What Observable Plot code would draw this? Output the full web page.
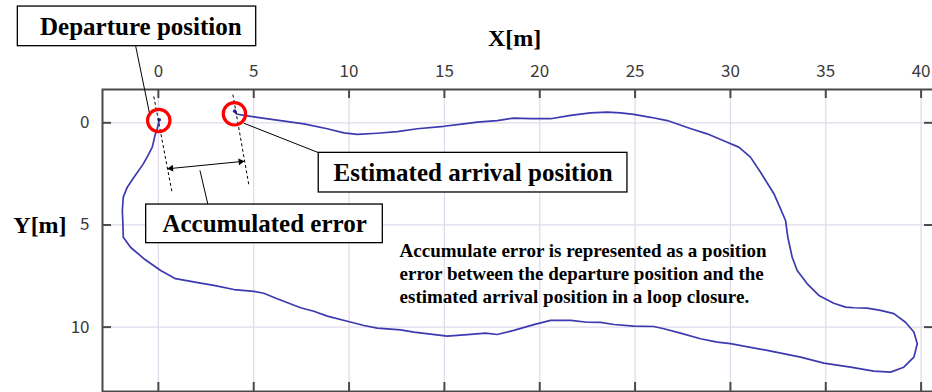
<!DOCTYPE html>
<html>
<head>
<meta charset="utf-8">
<script src="https://cdn.jsdelivr.net/npm/d3@7"></script>
<script src="https://cdn.jsdelivr.net/npm/@observablehq/plot@0.6"></script>
<style>
  html, body { margin: 0; padding: 0; background: white; overflow: hidden; }
</style>
</head>
<body>
<div id="chart"></div>
<script>
// ---- chart data ----
const xTicks = [0, 5, 10, 15, 20, 25, 30, 35, 40];
const yTicks = [0, 5, 10];

// trajectory (X[m], Y[m]), departure -> estimated arrival
const pathX = [0.05,-0.06,-0.18,-0.24,-0.32,-0.50,-0.79,-1.28,-1.63,-1.84,
  -1.89,-1.86,-1.84,-1.46,-0.76,0.12,0.90,2.21,2.91,3.96,
  5.01,5.53,6.23,7.46,8.15,8.86,9.91,10.78,11.48,12.70,
  13.40,15.15,16.20,17.16,17.77,18.64,19.69,20.57,21.62,22.49,
  23.19,23.89,24.93,25.98,26.51,27.38,28.43,29.31,30.00,31.93,
  33.68,34.90,36.30,37.52,38.40,39.09,39.62,39.80,39.62,39.18,
  38.57,37.87,37.17,36.47,36.04,35.42,34.64,34.03,33.50,33.24,
  33.01,32.89,32.63,32.28,31.58,31.05,30.44,29.83,28.78,27.93,
  26.69,25.81,24.93,24.24,23.54,22.66,21.62,20.57,19.52,18.64,
  17.77,16.72,16.02,14.97,13.58,12.53,11.48,10.43,9.73,8.86,
  7.63,6.41,5.19,4.48,4.10,4.00];
const pathY = [-0.15,0.29,0.62,0.87,1.19,1.52,2.01,2.66,3.15,3.64,
  4.29,4.94,5.60,6.09,6.65,7.23,7.63,7.85,7.96,8.16,
  8.25,8.34,8.61,9.05,9.22,9.46,9.71,9.92,10.05,10.13,
  10.24,10.44,10.37,10.29,10.36,10.16,9.88,9.67,9.67,9.76,
  9.77,9.87,9.95,9.97,10.08,10.29,10.57,10.73,10.81,11.14,
  11.47,11.76,11.96,12.15,12.20,11.96,11.47,10.81,10.24,9.76,
  9.34,9.18,9.07,9.05,9.02,8.83,8.45,7.88,7.23,6.58,
  5.60,4.78,4.21,3.47,2.42,1.68,1.19,0.95,0.54,0.29,
  -0.11,-0.27,-0.41,-0.49,-0.52,-0.49,-0.36,-0.20,-0.20,-0.23,
  -0.11,-0.03,0.05,0.17,0.29,0.43,0.51,0.57,0.49,0.29,
  0.05,-0.11,-0.27,-0.36,-0.43,-0.57];

const boxLabels = ["Departure position", "Estimated arrival position", "Accumulated error"];
const noteLines = [
  "Accumulate error is represented as a position",
  "error between the departure position and the",
  "estimated arrival position in a loop closure."
];
const xLabel = "X[m]";
const yLabel = "Y[m]";

// ---- annotation layout (in data units) ----
const boxLayout = [
  {x1: -7.37, x2: 5.13, y1: -5.69, y2: -3.75, tx: -0.92, ty: -4.30},
  {x1: 8.41, x2: 24.60, y1: 1.47, y2: 3.41, tx: 16.51, ty: 2.85},
  {x1: -0.64, x2: 11.77, y1: 4.00, y2: 5.89, tx: 5.57, ty: 5.335}
];
const boxes = boxLabels.map((label, i) => ({label, ...boxLayout[i]}));
const noteLayout = {x: 12.65, y: [6.544, 7.670, 8.796]};
const notes = noteLines.map((t, i) => ({t, x: noteLayout.x, y: noteLayout.y[i]}));
const circles = [{x: 0.02, y: -0.11}, {x: 3.99, y: -0.44}];
const dashed = [
  {x1: -0.24, y1: -1.29, x2: 0.73, y2: 3.47},
  {x1: 3.91, y1: -1.38, x2: 4.75, y2: 3.07}
];
const leaders = [
  {x1: -1.19, y1: -3.75, x2: -0.46, y2: -0.44},
  {x1: 4.48, y1: 0.02, x2: 8.42, y2: 1.47},
  {x1: 2.18, y1: 2.33, x2: 2.60, y2: 4.00}
];
const shaft = [{x1: 0.466, y1: 2.252, x2: 4.517, y2: 1.880}];
const heads = [{x: 4.312, y: 1.899, r: 84.4}, {x: 0.667, y: 2.232, r: 264.4}];
const axisTitles = [
  {t: xLabel, x: 18.68, y: -3.735},
  {t: yLabel, x: -6.21, y: 5.37}
];

const path = pathX.map((x, i) => ({x, y: pathY[i]}));
const ends = [path[0], path[path.length - 1]];

const W = 936, H = 392, mL = 102, mT = 89, mR = 3, mB = 1;
const fw = W - mL - mR, fh = H - mT - mB, tk = 9;
const axisColor = "#4a4a4a";
const serif = "'Liberation Serif', 'Times New Roman', serif";

const chart = Plot.plot({
  width: W, height: H,
  marginLeft: mL, marginTop: mT, marginRight: mR, marginBottom: mB,
  x: {domain: [-2.93, 40.65]},
  y: {domain: [-1.63, 13.15], reverse: true},
  style: {background: "white", maxWidth: "none", fontFamily: "'Noto Sans CJK JP', 'Noto Sans', sans-serif", fontSize: "17px", color: "#3a3a3a", overflow: "visible"},
  marks: [
    Plot.gridX(xTicks, {stroke: "#e2dbec", strokeOpacity: 1, strokeWidth: 1.3}),
    Plot.gridY(yTicks, {stroke: "#e2dbec", strokeOpacity: 1, strokeWidth: 1.3}),
    Plot.axisX({anchor: "top", ticks: xTicks, tickSize: 0, tickPadding: 12.5, label: null, fontSize: 17, fill: "#3a3a3a"}),
    Plot.axisY({anchor: "left", ticks: yTicks, tickSize: 0, tickPadding: 13, label: null, fontSize: 17, fill: "#3a3a3a"}),
    Plot.tickX(xTicks, {x: d => d, stroke: axisColor, strokeWidth: 2, insetBottom: fh - tk}),
    Plot.tickX(xTicks, {x: d => d, stroke: axisColor, strokeWidth: 2, insetTop: fh - tk}),
    Plot.tickY(yTicks, {y: d => d, stroke: axisColor, strokeWidth: 2, insetRight: fw - tk}),
    Plot.tickY(yTicks, {y: d => d, stroke: axisColor, strokeWidth: 2, insetLeft: fw - tk}),
    Plot.frame({stroke: axisColor, strokeWidth: 2}),
    Plot.line(path, {x: "x", y: "y", stroke: "#3d3ab0", strokeWidth: 1.7, strokeLinejoin: "round"}),
    Plot.dot(ends, {x: "x", y: "y", r: 1.8, fill: "#2c2a9a"}),
    Plot.link(dashed, {x1: "x1", y1: "y1", x2: "x2", y2: "y2", stroke: "black", strokeWidth: 1, strokeDasharray: "3,2.5"}),
    Plot.link(leaders, {x1: "x1", y1: "y1", x2: "x2", y2: "y2", stroke: "black", strokeWidth: 1}),
    Plot.link(shaft, {x1: "x1", y1: "y1", x2: "x2", y2: "y2", stroke: "black", strokeWidth: 1}),
    Plot.dot(heads, {x: "x", y: "y", r: 2.5, symbol: "triangle", fill: "black", stroke: "none", rotate: "r"}),
    Plot.dot(circles, {x: "x", y: "y", r: 11.2, stroke: "#ff0000", strokeWidth: 3.2, fill: "none"}),
    Plot.rect(boxes, {x1: "x1", x2: "x2", y1: "y1", y2: "y2", fill: "white", stroke: "black", strokeWidth: 1.3}),
    Plot.text(boxes, {x: "tx", y: "ty", text: "label", textAnchor: "middle", lineAnchor: "bottom", fontFamily: serif, fontWeight: "bold", fontSize: 25, fill: "black"}),
    Plot.text(notes, {x: "x", y: "y", text: "t", textAnchor: "start", lineAnchor: "bottom", fontFamily: serif, fontWeight: "bold", fontSize: 19, fill: "black"}),
    Plot.text(axisTitles, {x: "x", y: "y", text: "t", textAnchor: "middle", lineAnchor: "bottom", fontFamily: serif, fontWeight: "bold", fontSize: 24, fill: "black"})
  ]
});
document.getElementById("chart").appendChild(chart);
</script>
</body>
</html>
